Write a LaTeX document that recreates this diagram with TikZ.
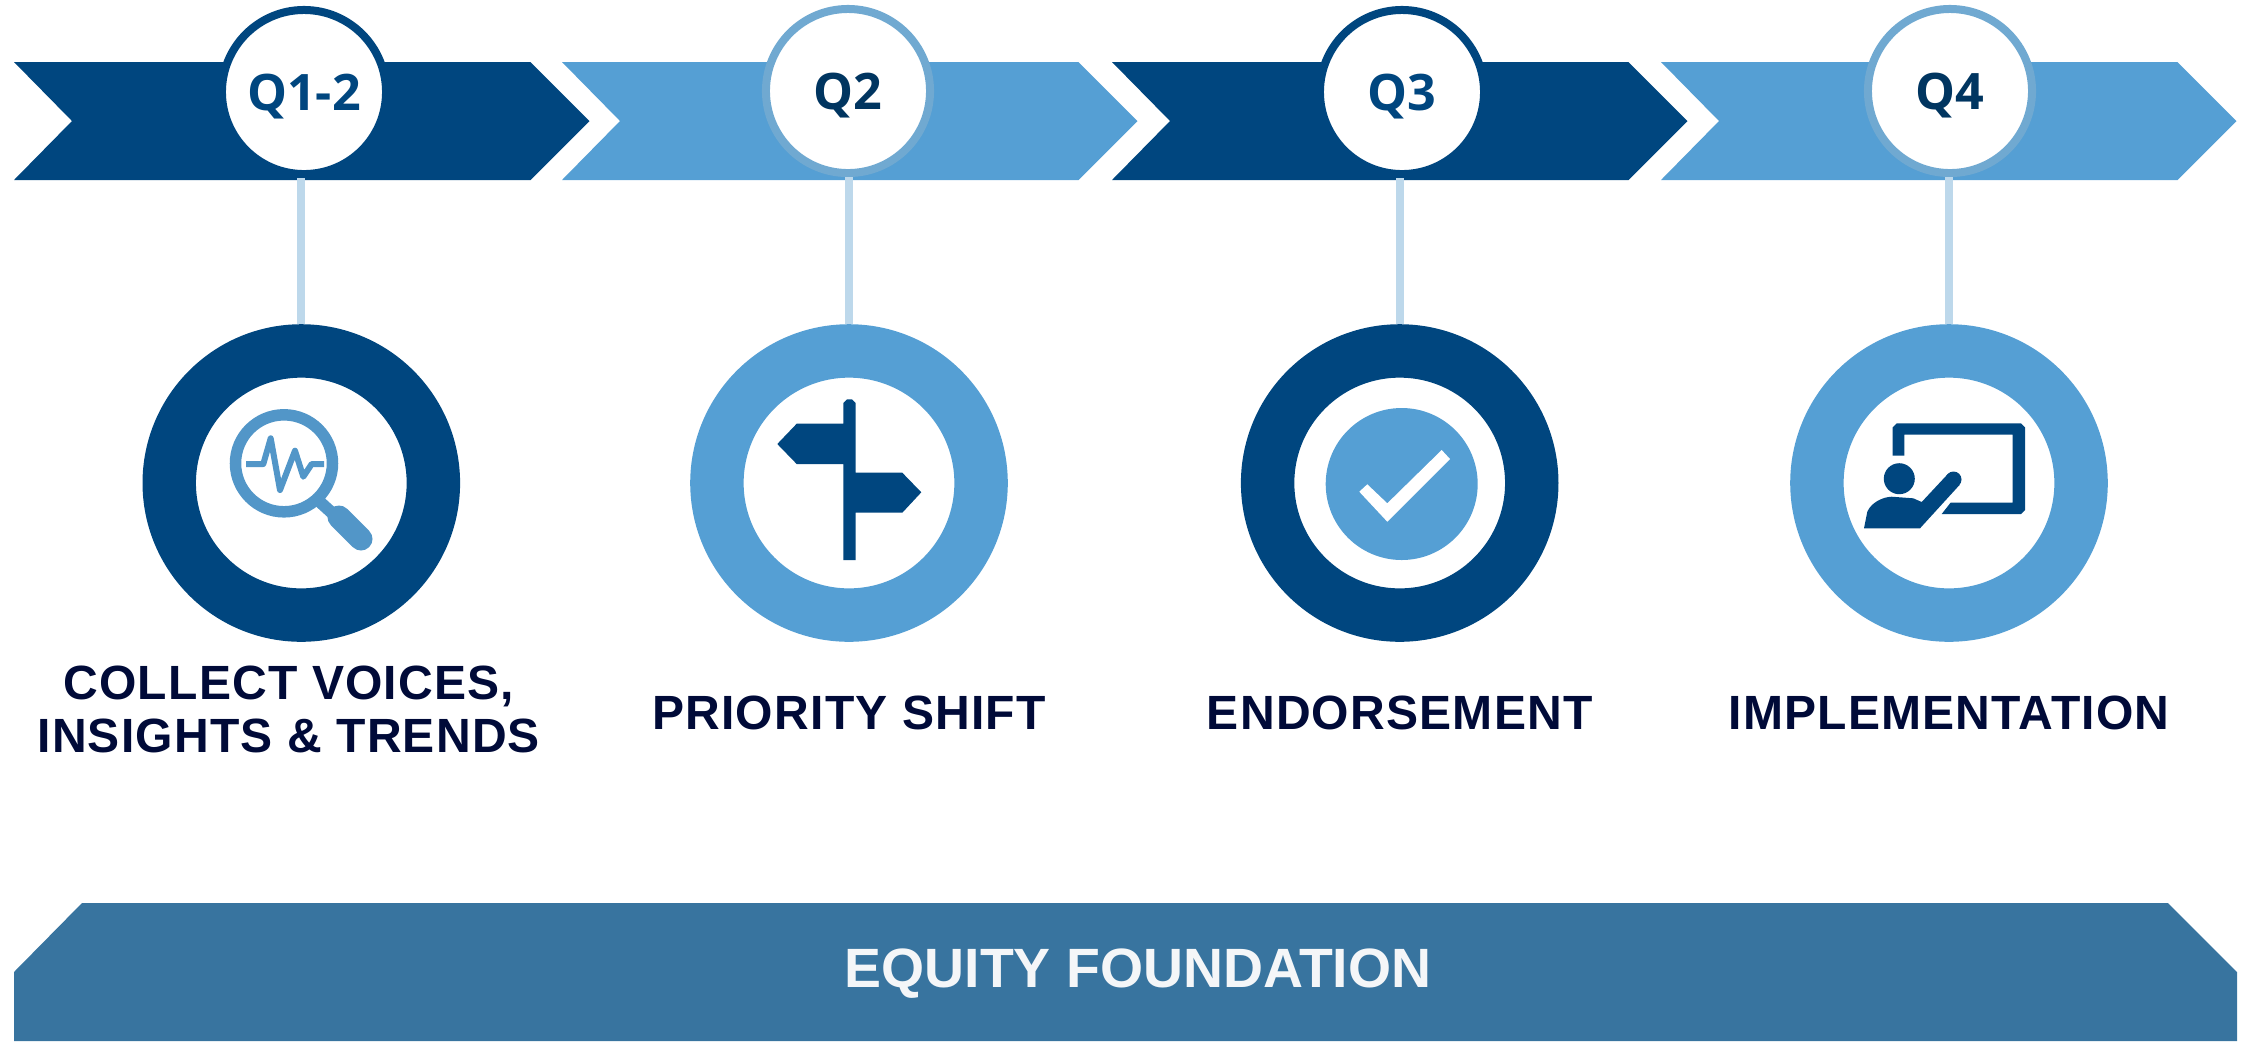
\documentclass[tikz,border=0pt]{standalone}
\usepackage{fontspec}
\setmainfont{Liberation Sans}
\newfontfamily\quarterfont{Open Sans}
\newfontfamily\labelfont[LetterSpace=2.5]{Liberation Sans}
\usepackage{xcolor}
\usepackage{tikz}
\usetikzlibrary{positioning,calc}

\definecolor{navy}{HTML}{00467F}
\definecolor{sky}{HTML}{559FD4}
\definecolor{skyring}{HTML}{70A9D1}
\definecolor{glass}{HTML}{5296C8}
\definecolor{stemblue}{HTML}{BDD8EB}
\definecolor{labelink}{HTML}{000A38}
\definecolor{quarterink}{HTML}{003560}
\definecolor{basefill}{HTML}{38749F}
\definecolor{baseink}{HTML}{F4F6F8}

\begin{document}
\begin{tikzpicture}[
    x=0.01cm, y=-0.01cm,
    quarter/.style={circle, draw=#1, fill=white, line width=0.08cm, minimum size=1.64cm, inner sep=0pt,
        text height=0.37cm, text depth=0pt, font=\fontsize{14.3}{15}\quarterfont\bfseries},
    ring/.style={circle, draw=#1, fill=white, line width=0.534cm, minimum size=2.64cm, inner sep=0pt},
    stem/.style={stemblue, line width=0.08cm},
    steplabel/.style={align=center, inner sep=0pt, text=labelink, text depth=0pt,
        font=\fontsize{13.66}{15.08}\labelfont\bfseries}
]
    \useasboundingbox (0,0) rectangle (2247,1041);

    % ribbon
    \foreach \xa/\col in {14/navy, 562/sky, 1112/navy, 1661/sky}
        \fill[\col] (\xa,62) -- ({\xa+516.5},62) -- ({\xa+575.5},121) -- ({\xa+516.5},180)
            -- (\xa,180) -- ({\xa+58},121) -- cycle;

    \node[quarter=navy, text=navy] (q1) at (304,92) {Q1-2};
    \node[quarter=skyring, text=quarterink] (q2) at (848,91) {Q2};
    \node[quarter=navy, text=navy] (q3) at (1402,92) {Q3};
    \node[quarter=skyring, text=quarterink] (q4) at (1950,91) {Q4};

    \node[ring=navy] (ring1) at (301.3,483) {};
    \node[ring=sky] (ring2) at (849,483) {};
    \node[ring=navy] (ring3) at (1399.7,483) {};
    \node[ring=sky] (ring4) at (1949,483) {};

    \draw[stem] (ring1.north |- q1.south) -- (ring1.north);
    \draw[stem] (ring2.north |- q2.south) -- (ring2.north);
    \draw[stem] (ring3.north |- q3.south) -- (ring3.north);
    \draw[stem] (ring4.north |- q4.south) -- (ring4.north);

    \node[steplabel, below=0.23cm of ring1, xshift=-0.125cm] (collect) {COLLECT VOICES,\\INSIGHTS \& TRENDS};
    \node[steplabel, below=0.53cm of ring2] (shift) {PRIORITY SHIFT};
    \node[steplabel, below=0.53cm of ring3] (endorse) {ENDORSEMENT};
    \node[steplabel, below=0.53cm of ring4] (implement) {IMPLEMENTATION};

    % magnifier
    \draw[glass, line width=0.115cm] (284,463.3) circle (48.5);
    \draw[glass, line width=0.06cm, line join=round] (246,464) -- (263.3,464) -- (270.7,438.3) -- (280,490)
        -- (295,450.7) -- (303.3,476.7) -- (311.7,464) -- (324,464);
    \draw[glass, line width=0.12cm] (320,502) -- (342,522);
    \draw[glass, line width=0.23cm, line cap=round] (339,517) -- (361,539);

    % signpost
    \fill[navy] (843.3,403) -- (847,399.3) -- (852,399.3) -- (855.7,403) -- (855.7,472.7) -- (902.3,472.7)
        -- (921.3,492.3) -- (902.3,512.7) -- (855.7,512.7) -- (855.7,560) -- (843.3,560) -- (843.3,464)
        -- (796.7,464) -- (777.3,444) -- (796.7,423.7) -- (843.3,423.7) -- cycle;

    % check
    \fill[sky] (1401.7,484) circle (76);
    \fill[white] (1359.3,491.7) -- (1367.3,484.3) -- (1387.3,503.3) -- (1441.7,450) -- (1450,459)
        -- (1387.3,521.7) -- cycle;

    % teacher
    \fill[navy] (1892.7,455.7) -- (1892.7,427.3) -- (1896.7,423.3) -- (2021,423.3) -- (2025,427.3) -- (2025,510)
        -- (2021,514) -- (1941.7,514) -- (1950.7,502.5) -- (2012.7,502.5) -- (2012.7,434.5) -- (1904.3,434.5)
        -- (1904.3,455.7) -- cycle;
    \fill[navy] (1899.3,478.7) circle (15.5);
    \fill[navy] (1864,528.3) -- (1867.3,511.7) .. controls (1871,503) and (1882,497) .. (1891.7,496.7)
        -- (1913.3,498.3) -- (1921.7,502) -- (1948.3,473.5) -- (1959.5,485) -- (1920,528.3) -- cycle;
    \fill[navy] (1953.5,479.5) circle (8);

    % base
    \fill[basefill] (14,1041) -- (14,972) -- (82,903) -- (2168,903) -- (2237,972) -- (2237,1041) -- cycle;
    \node[text=baseink, font=\fontsize{15.75}{18}\selectfont\bfseries, text depth=0pt, inner sep=0pt] (equity) at (1138,968.5) {EQUITY FOUNDATION};
\end{tikzpicture}
\end{document}
